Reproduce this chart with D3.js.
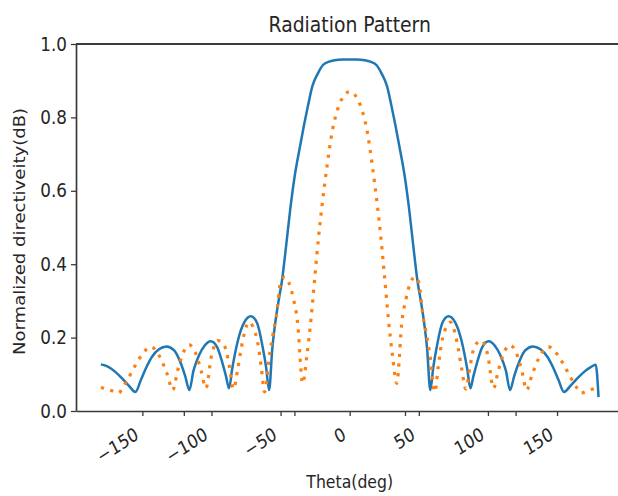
<!DOCTYPE html>
<html>
<head>
<meta charset="utf-8">
<script src="https://cdn.jsdelivr.net/npm/d3@7/dist/d3.min.js"></script>
<style>
  html, body { margin: 0; padding: 0; background: #fff; }
  svg { display: block; }
  text { font-family: "DejaVu Sans", sans-serif; fill: #262626; }
</style>
</head>
<body>
<svg id="chart" width="618" height="496"></svg>
<script>
// ---- data ----
const blueTheta = [-180, -175, -170, -165, -160, -155, -151, -147, -143, -138, -132.5, -127, -122, -119, -116, -113, -109, -105, -100.5, -96, -92, -89.5, -87.3, -85, -81, -76.5, -71.5, -67, -63, -60.5, -58.3, -56, -53.5, -51, -49, -46, -43, -40, -36.5, -33, -30, -27, -23, -19.5, -15, -11, -5, 0,
  5, 11, 15, 19.5, 23, 27, 30, 33, 36.5, 40, 43, 46, 49, 51, 53.5, 56, 58.3, 60.5, 63, 67, 71.5, 76.5, 81, 85, 87.3, 89.5, 92, 96, 100.5, 105, 109, 113, 116, 119, 122, 127, 132.5, 138, 143, 147, 151, 155, 160, 165, 170, 175, 178, 180];
const blueValues = [0.127, 0.121, 0.108, 0.09, 0.07, 0.052, 0.085, 0.12, 0.148, 0.168, 0.176, 0.165, 0.128, 0.095, 0.057, 0.11, 0.152, 0.178, 0.19, 0.175, 0.13, 0.095, 0.062, 0.115, 0.19, 0.24, 0.258, 0.24, 0.175, 0.12, 0.057, 0.17, 0.25, 0.31, 0.355, 0.45, 0.55, 0.635, 0.71, 0.78, 0.835, 0.885, 0.92, 0.942, 0.952, 0.956, 0.958, 0.958,
  0.958, 0.956, 0.952, 0.942, 0.92, 0.885, 0.835, 0.78, 0.71, 0.635, 0.55, 0.45, 0.355, 0.31, 0.25, 0.17, 0.057, 0.12, 0.175, 0.24, 0.258, 0.24, 0.19, 0.115, 0.062, 0.095, 0.13, 0.175, 0.19, 0.178, 0.152, 0.11, 0.057, 0.095, 0.128, 0.165, 0.176, 0.168, 0.148, 0.12, 0.085, 0.052, 0.07, 0.09, 0.108, 0.121, 0.126, 0.038];

const orangeTheta = [-180, -176, -172, -167.3, -164, -160, -155, -150, -143.8, -137, -132, -128, -124.5, -120.5, -116, -111.5, -107.5, -104, -100, -95.5, -92, -89, -87, -84, -81, -78.5, -76, -73, -70, -66.5, -64, -61.6, -57.8, -55.5, -53, -50, -47.2, -44, -41, -37, -36, -34, -31, -28, -25, -22.5, -20, -16.5, -12.5, -8, -4, 0,
  4, 8, 12.5, 16.5, 20, 22.5, 25, 28, 31, 34, 36, 37, 41, 44, 47.2, 50, 53, 55.5, 57.8, 61.6, 64, 66.5, 70, 73, 76, 78.5, 81, 84, 87, 89, 92, 95.5, 100, 104, 107.5, 111.5, 116, 120.5, 124.5, 128, 132, 137, 143.8, 150, 155, 160, 164, 167.3, 172, 176, 180];
const orangeValues = [0.064, 0.06, 0.055, 0.049, 0.065, 0.09, 0.125, 0.155, 0.175, 0.145, 0.1, 0.057, 0.11, 0.158, 0.18, 0.158, 0.11, 0.062, 0.15, 0.192, 0.185, 0.16, 0.12, 0.06, 0.115, 0.17, 0.215, 0.242, 0.23, 0.185, 0.12, 0.052, 0.158, 0.21, 0.26, 0.35, 0.365, 0.35, 0.31, 0.21, 0.15, 0.075, 0.15, 0.25, 0.375, 0.475, 0.56, 0.665, 0.765, 0.83, 0.86, 0.87,
  0.86, 0.83, 0.765, 0.665, 0.56, 0.475, 0.375, 0.25, 0.15, 0.075, 0.15, 0.21, 0.31, 0.35, 0.365, 0.35, 0.26, 0.21, 0.158, 0.052, 0.12, 0.185, 0.23, 0.242, 0.215, 0.17, 0.115, 0.06, 0.12, 0.16, 0.185, 0.192, 0.15, 0.062, 0.11, 0.158, 0.18, 0.158, 0.11, 0.057, 0.1, 0.145, 0.175, 0.155, 0.125, 0.09, 0.065, 0.049, 0.055, 0.06, 0.064];

const xTickValues = [-150, -100, -50, 0, 50, 100, 150];
const xExtraTicks = [-120, -40, 40, 120];
const yTickValues = [0.0, 0.2, 0.4, 0.6, 0.8, 1.0];
const titleText = "Radiation Pattern";
const xLabelText = "Theta(deg)";
const yLabelText = "Normalized directiveity(dB)";

// ---- layout ----
const svg = d3.select("#chart");
const mLeft = 76, mRight = 623.4, mTop = 44, mBottom = 411;
const vStretch = 1.15; // the reference figure's text is slightly stretched vertically
const x = d3.scaleLinear().domain([-198, 198]).range([mLeft, mRight]);
const y = d3.scaleLinear().domain([0, 1]).range([mBottom, mTop]);

svg.append("rect").attr("width", 618).attr("height", 496).attr("fill", "#fff");

const plot = svg.append("g");
const line = d3.line().x(d => x(d[0])).y(d => y(d[1])).curve(d3.curveMonotoneX);

plot.append("path")
  .datum(blueTheta.map((t, i) => [t, blueValues[i]]))
  .attr("d", line)
  .attr("fill", "none")
  .attr("stroke", "#1f77b4")
  .attr("stroke-width", 2.5)
  .attr("stroke-linejoin", "round");

plot.append("path")
  .datum(orangeTheta.map((t, i) => [t, orangeValues[i]]))
  .attr("d", line)
  .attr("fill", "none")
  .attr("stroke", "#ff7f0e")
  .attr("stroke-width", 3.2)
  .attr("stroke-dasharray", "3.2,6.5");

// ---- axes ----
const fmtX = d3.format("d");
const xAxis = d3.axisBottom(x).tickValues(xTickValues).tickFormat(fmtX).tickSize(5).tickPadding(3).tickSizeOuter(0);
const gx = svg.append("g").attr("transform", `translate(0,${mBottom})`).call(xAxis);
gx.selectAll("text")
  .style("font-size", "16.3px")
  .attr("text-anchor", "end")
  .attr("dy", null)
  .attr("y", 0)
  .attr("transform", `translate(-3,27) scale(1,${vStretch}) rotate(-30)`);

const gxExtra = svg.append("g").attr("transform", `translate(0,${mBottom})`)
  .call(d3.axisBottom(x).tickValues(xExtraTicks).tickFormat("").tickSize(5).tickSizeOuter(0));
gxExtra.select(".domain").remove();

const yAxis = d3.axisLeft(y).tickValues(yTickValues).tickFormat(d3.format(".1f")).tickSize(5).tickPadding(4).tickSizeOuter(0);
const gy = svg.append("g").attr("transform", `translate(${mLeft},0)`).call(yAxis);
gy.selectAll("text").style("font-size", "16.8px")
  .attr("transform", `scale(1,${vStretch})`);

svg.selectAll(".domain").attr("stroke", "#3a3a3a").attr("stroke-width", 1.7);
svg.selectAll(".tick line").attr("stroke", "#3a3a3a").attr("stroke-width", 1.3);

// top & right spines
svg.append("line").attr("x1", mLeft).attr("x2", mRight).attr("y1", mTop).attr("y2", mTop)
  .attr("stroke", "#3a3a3a").attr("stroke-width", 1.9);
svg.append("line").attr("x1", mRight).attr("x2", mRight).attr("y1", mTop).attr("y2", mBottom)
  .attr("stroke", "#3a3a3a").attr("stroke-width", 1.7);

// ---- texts ----
svg.append("text")
  .attr("transform", `translate(${(mLeft + mRight) / 2},32) scale(1,${vStretch})`)
  .attr("text-anchor", "middle").style("font-size", "18.8px").text(titleText);
svg.append("text")
  .attr("transform", `translate(${(mLeft + mRight) / 2},488) scale(1,${vStretch})`)
  .attr("text-anchor", "middle").style("font-size", "15.7px").text(xLabelText);
svg.append("text")
  .attr("transform", `translate(25,${(mTop + mBottom) / 2 + 4}) rotate(-90) scale(${vStretch},1)`)
  .attr("text-anchor", "middle").style("font-size", "15.7px").text(yLabelText);
</script>
</body>
</html>
